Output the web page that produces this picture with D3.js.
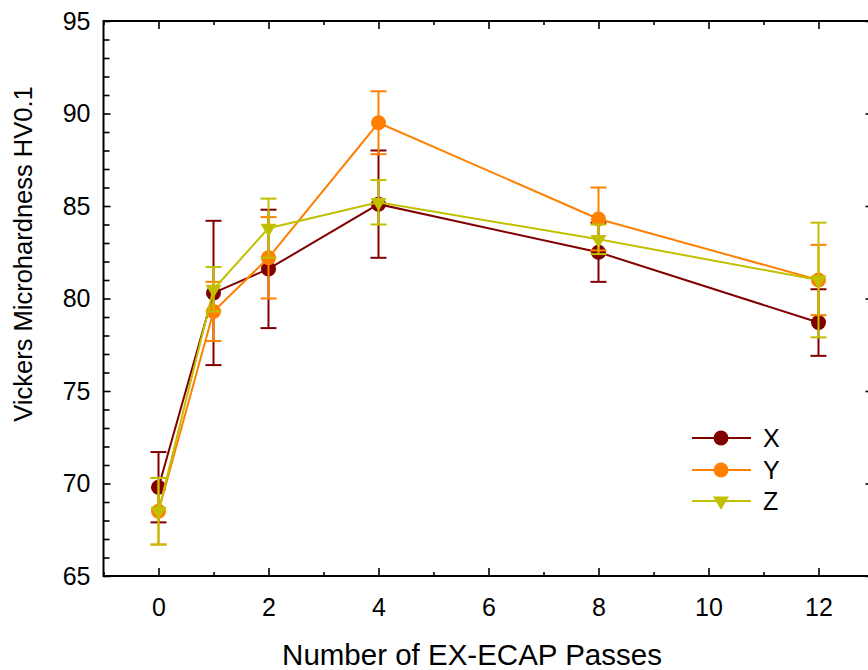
<!DOCTYPE html>
<html>
<head>
<meta charset="utf-8">
<script src="https://cdn.jsdelivr.net/npm/d3@7"></script>
<style>
  html, body { margin: 0; padding: 0; background: #fff; }
  svg { display: block; }
  text { font-family: "Liberation Sans", Arial, sans-serif; fill: #000; }
</style>
</head>
<body>
<script>
// ---- data ----
const passes = [0, 1, 2, 4, 8, 12];
const seriesNames = ["X", "Y", "Z"];
const xMean = [69.8, 80.3, 81.6, 85.1, 82.5, 78.7];
const xErr  = [1.9, 3.9, 3.2, 2.9, 1.6, 1.8];
const yMean = [68.5, 79.3, 82.2, 89.5, 84.3, 81.0];
const yErr  = [1.8, 1.6, 2.2, 1.7, 1.7, 1.9];
const zMean = [68.5, 80.5, 83.8, 85.2, 83.2, 81.0];
const zErr  = [1.8, 1.2, 1.6, 1.2, 0.8, 3.1];
const xTickLabels = [0, 2, 4, 6, 8, 10, 12];
const yTickLabels = [65, 70, 75, 80, 85, 90, 95];
const colors = ["#800000", "#ff8000", "#c0c000"];
const symbols = ["circle", "circle", "triangle"];

const W = 868, H = 670;
const svg = d3.select("body").append("svg").attr("width", W).attr("height", H);

const x = d3.scaleLinear().domain([-1, 13]).range([103.5, 873.5]);
const y = d3.scaleLinear().domain([65, 95]).range([576, 21]);

const series = [
  { name: seriesNames[0], mean: xMean, err: xErr },
  { name: seriesNames[1], mean: yMean, err: yErr },
  { name: seriesNames[2], mean: zMean, err: zErr }
];

// ---- axes ----
const majorX = xTickLabels;
const minorX = d3.range(-1, 14, 1).filter(v => v % 2 !== 0);
const majorY = yTickLabels;
const minorY = d3.range(65, 96, 1).filter(v => v % 5 !== 0);

function styleAxis(g) {
  g.select(".domain").remove();
  g.selectAll(".tick line").attr("stroke", "#000").attr("stroke-width", 1.6);
}

// bottom
svg.append("g").attr("transform", `translate(0,${y(65)})`)
  .call(d3.axisBottom(x).tickValues(minorX).tickSize(-4).tickFormat(""))
  .call(styleAxis);
svg.append("g").attr("transform", `translate(0,${y(65)})`)
  .call(d3.axisBottom(x).tickValues(majorX).tickSize(-8).tickPadding(22).tickFormat(d3.format("d")))
  .call(styleAxis)
  .call(g => g.selectAll("text").attr("font-size", 25).attr("fill", "#000")
      .attr("font-family", "Liberation Sans, Arial, sans-serif"));
// top
svg.append("g").attr("transform", `translate(0,${y(95)})`)
  .call(d3.axisTop(x).tickValues(minorX).tickSize(-4).tickFormat(""))
  .call(styleAxis);
svg.append("g").attr("transform", `translate(0,${y(95)})`)
  .call(d3.axisTop(x).tickValues(majorX).tickSize(-8).tickFormat(""))
  .call(styleAxis);
// left
svg.append("g").attr("transform", `translate(${x(-1)},0)`)
  .call(d3.axisLeft(y).tickValues(minorY).tickSize(-6).tickFormat(""))
  .call(styleAxis);
svg.append("g").attr("transform", `translate(${x(-1)},0)`)
  .call(d3.axisLeft(y).tickValues(majorY).tickSize(-7).tickPadding(13).tickFormat(d3.format("d")))
  .call(styleAxis)
  .call(g => g.selectAll("text").attr("font-size", 25).attr("fill", "#000")
      .attr("font-family", "Liberation Sans, Arial, sans-serif"));
// right
svg.append("g").attr("transform", `translate(${x(13)},0)`)
  .call(d3.axisRight(y).tickValues(minorY).tickSize(-5).tickFormat(""))
  .call(styleAxis);
svg.append("g").attr("transform", `translate(${x(13)},0)`)
  .call(d3.axisRight(y).tickValues(majorY).tickSize(-8).tickFormat(""))
  .call(styleAxis);

// frame
svg.append("rect")
  .attr("x", x(-1)).attr("y", y(95))
  .attr("width", x(13) - x(-1)).attr("height", y(65) - y(95))
  .attr("fill", "none").attr("stroke", "#000").attr("stroke-width", 2);

// axis titles
svg.append("text")
  .attr("x", 472).attr("y", 665)
  .attr("text-anchor", "middle").attr("font-size", 29.5)
  .text("Number of EX-ECAP Passes");
svg.append("text")
  .attr("transform", "translate(32,254) rotate(-90)")
  .attr("text-anchor", "middle").attr("font-size", 25.5)
  .text("Vickers Microhardness HV0.1");

// ---- series ----
const line = d3.line().x(d => x(d.p)).y(d => y(d.v));
const symCircle = d3.symbol().type(d3.symbolCircle).size(Math.PI * 7.5 * 7.5);
const triPath = r => `M${-r},${-r * 0.55}L${r},${-r * 0.55}L0,${r * 1.1}Z`;

series.forEach((s, i) => {
  const pts = passes.map((p, k) => ({ p, v: s.mean[k], e: s.err[k] }));
  const g = svg.append("g");
  // error bars
  const eb = g.selectAll(".eb").data(pts).enter().append("g").attr("stroke", colors[i]).attr("stroke-width", 2);
  eb.append("line").attr("x1", d => x(d.p)).attr("x2", d => x(d.p))
    .attr("y1", d => y(d.v - d.e)).attr("y2", d => y(d.v + d.e));
  eb.append("line").attr("x1", d => x(d.p) - 8).attr("x2", d => x(d.p) + 8)
    .attr("y1", d => y(d.v + d.e)).attr("y2", d => y(d.v + d.e));
  eb.append("line").attr("x1", d => x(d.p) - 8).attr("x2", d => x(d.p) + 8)
    .attr("y1", d => y(d.v - d.e)).attr("y2", d => y(d.v - d.e));
  // line
  g.append("path").datum(pts).attr("d", line)
    .attr("fill", "none").attr("stroke", colors[i]).attr("stroke-width", 2);
  // markers
  g.selectAll(".m").data(pts).enter().append("path")
    .attr("transform", d => `translate(${x(d.p)},${y(d.v)})`)
    .attr("d", symbols[i] === "circle" ? symCircle() : triPath(8))
    .attr("fill", colors[i]);
});

// ---- legend ----
const legY = [438, 470, 501];
series.forEach((s, i) => {
  const g = svg.append("g").attr("transform", `translate(692,${legY[i]})`);
  g.append("line").attr("x1", 0).attr("x2", 59).attr("y1", 0).attr("y2", 0)
    .attr("stroke", colors[i]).attr("stroke-width", 2);
  g.append("path").attr("transform", "translate(29,0)")
    .attr("d", symbols[i] === "circle" ? symCircle() : triPath(8))
    .attr("fill", colors[i]);
  g.append("text").attr("x", 71).attr("y", 9).attr("font-size", 25).text(s.name);
});
</script>
</body>
</html>
